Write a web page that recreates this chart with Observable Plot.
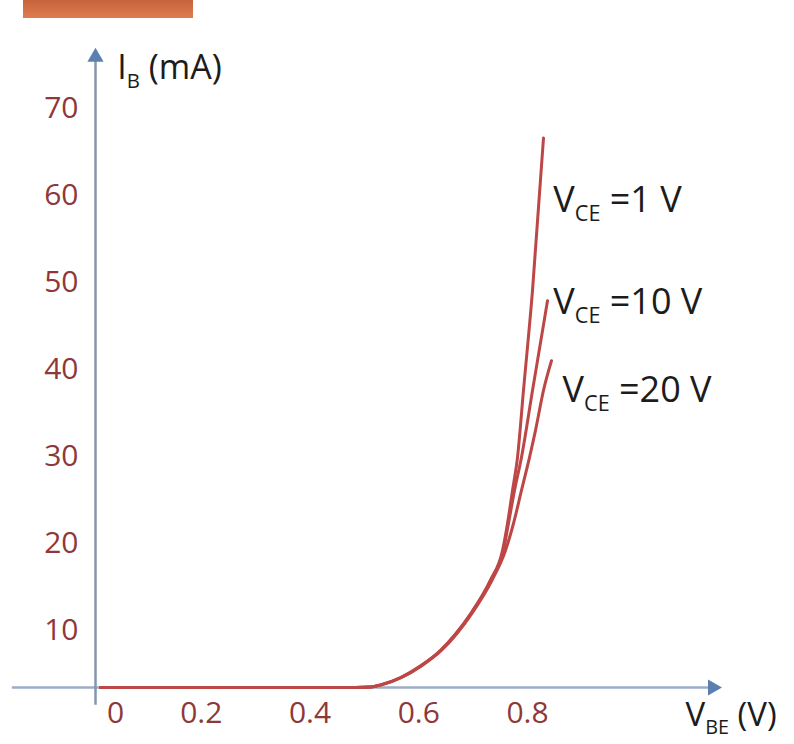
<!DOCTYPE html>
<html><head><meta charset="utf-8">
<script src="https://cdn.jsdelivr.net/npm/d3@7"></script>
<script src="https://cdn.jsdelivr.net/npm/@observablehq/plot@0.6"></script>
<style>
body{margin:0;background:#fff;}
#wrap{position:relative;width:794px;height:744px;overflow:hidden;}
#bar{position:absolute;left:23px;top:0;width:170px;height:18px;background:linear-gradient(#c8623a,#de7c50);}
#wrap svg{position:absolute;left:0;top:0;}
</style></head><body><div id="wrap"><div id="bar"></div></div>
<script>
// I_B vs V_BE curves (V, mA)
const vbe1V  = [0.009, 0.30, 0.478, 0.506, 0.524, 0.561, 0.598, 0.634, 0.662, 0.690, 0.726, 0.7485, 0.7577, 0.7669, 0.7761, 0.7871, 0.8037, 0.8239];
const ib1V   = [3.45, 3.45, 3.45, 3.5, 3.75, 4.6, 5.95, 7.7, 9.6, 11.95, 15.75, 19.2, 22.3, 26.1, 29.9, 37.6, 49.1, 66.6];
const vbe10V = [0.009, 0.30, 0.478, 0.506, 0.525, 0.562, 0.599, 0.635, 0.663, 0.691, 0.727, 0.7503, 0.7595, 0.7706, 0.7834, 0.8037, 0.8313];
const ib10V  = [3.45, 3.45, 3.45, 3.5, 3.75, 4.6, 5.95, 7.7, 9.6, 11.95, 15.75, 19.2, 22.3, 26.1, 29.9, 37.6, 47.9];
const vbe20V = [0.009, 0.30, 0.478, 0.506, 0.526, 0.563, 0.600, 0.636, 0.664, 0.692, 0.729, 0.754, 0.7687, 0.7834, 0.7982, 0.8092, 0.8239, 0.8386];
const ib20V  = [3.45, 3.45, 3.45, 3.5, 3.75, 4.6, 5.95, 7.7, 9.6, 11.95, 15.75, 19.2, 22.3, 26.1, 29.9, 33.0, 37.6, 41.0];

const seriesNames = ["VCE=1V", "VCE=10V", "VCE=20V"];
const curveLabels = ["V_{CE} =1 V", "V_{CE} =10 V", "V_{CE} =20 V"];
const labelV = [0.842, 0.842, 0.859];
const labelI = [59.4, 47.7, 37.6];

const xTicks = [0.2, 0.4, 0.6, 0.8];
const xTickZero = [0];
const yTicks = [10, 20, 30, 40, 50, 60, 70];
const xTitle = "V_{BE} (V)";
const yTitle = "I_{B} (mA)";

// axis geometry (data units)
const baseI = 3.45;
const xAxisFrom = -0.153, xAxisTo = 1.135;
const yAxisFrom = 1.4, yAxisTo = 75.9;

const seriesV = [vbe1V, vbe10V, vbe20V];
const seriesI = [ib1V, ib10V, ib20V];
const table = seriesNames.flatMap((s, k) => seriesV[k].map((v, j) => ({s, v, i: seriesI[k][j]})));
const labels = curveLabels.map((t, k) => ({t, v: labelV[k], i: labelI[k]}));

const red = "#bd4646";
const tickColor = "#8e3838";
const axisColor = "#9aafc7";
const arrowColor = "#5b80b0";

const chart = Plot.plot({
  width: 794, height: 744,
  marginLeft: 95, marginBottom: 57, marginTop: 0, marginRight: 0,
  style: {fontFamily: "'Open Sans', sans-serif", background: "transparent", overflow: "visible"},
  x: {domain: [0, 0.8], range: [95, 530]},
  y: {domain: [0, 70], range: [717, 108]},
  marks: [
    Plot.ruleY([{y: baseI, x1: xAxisFrom, x2: xAxisTo}], {y: "y", x1: "x1", x2: "x2", stroke: axisColor, strokeWidth: 2.5}),
    Plot.ruleX([{x: 0, y1: yAxisFrom, y2: yAxisTo}], {x: "x", y1: "y1", y2: "y2", stroke: "#8596aa", strokeWidth: 2.5}),
    Plot.dot([{x: xAxisTo, y: baseI}], {x: "x", y: "y", symbol: "triangle", rotate: 90, r: 6, fill: arrowColor, stroke: "none"}),
    Plot.dot([{x: 0, y: yAxisTo}], {x: "x", y: "y", symbol: "triangle", r: 6, fill: arrowColor, stroke: "none"}),
    Plot.line(table, {x: "v", y: "i", z: "s", stroke: red, strokeWidth: 3, curve: "monotone-x"}),
    Plot.axisY(yTicks, {anchor: "left", tickSize: 0, tickPadding: 17, fontSize: 30, fill: tickColor, color: tickColor, label: null}),
    Plot.axisX(xTicks, {anchor: "bottom", tickSize: 0, tickPadding: 14, dx: -3, fontSize: 30, fill: tickColor, color: tickColor, label: null, tickFormat: d => String(d)}),
    Plot.axisX(xTickZero, {anchor: "bottom", tickSize: 0, tickPadding: 14, dx: 20, fontSize: 30, fill: tickColor, color: tickColor, label: null, tickFormat: d => String(d)}),
    Plot.text(labels, {x: "v", y: "i", text: "t", textAnchor: "start", fontSize: 36, fill: "#1c1c1c"}),
    Plot.text([{t: yTitle, v: 0.040, i: 74.6}], {x: "v", y: "i", text: "t", textAnchor: "start", fontSize: 34, fill: "#1c1c1c"}),
    Plot.text([{t: xTitle, v: 1.085, i: 0.2}], {x: "v", y: "i", text: "t", textAnchor: "start", fontSize: 33, fill: "#1c1c1c"})
  ]
});

// subscripts
d3.select(chart).selectAll("text").each(function() {
  const t = this.textContent;
  const m = t.match(/^(.*?)_\{(.*?)\}(.*)$/);
  if (!m) return;
  const g = this.closest("g[font-size]");
  const fs = g ? parseFloat(g.getAttribute("font-size")) : 30;
  const sel = d3.select(this);
  sel.text(null);
  sel.append("tspan").text(m[1]);
  sel.append("tspan").attr("font-size", fs * 0.6).attr("dy", fs * 0.24).text(m[2]);
  sel.append("tspan").attr("dy", -fs * 0.24).text(m[3]);
});

document.getElementById("wrap").appendChild(chart);
</script>
</body></html>
